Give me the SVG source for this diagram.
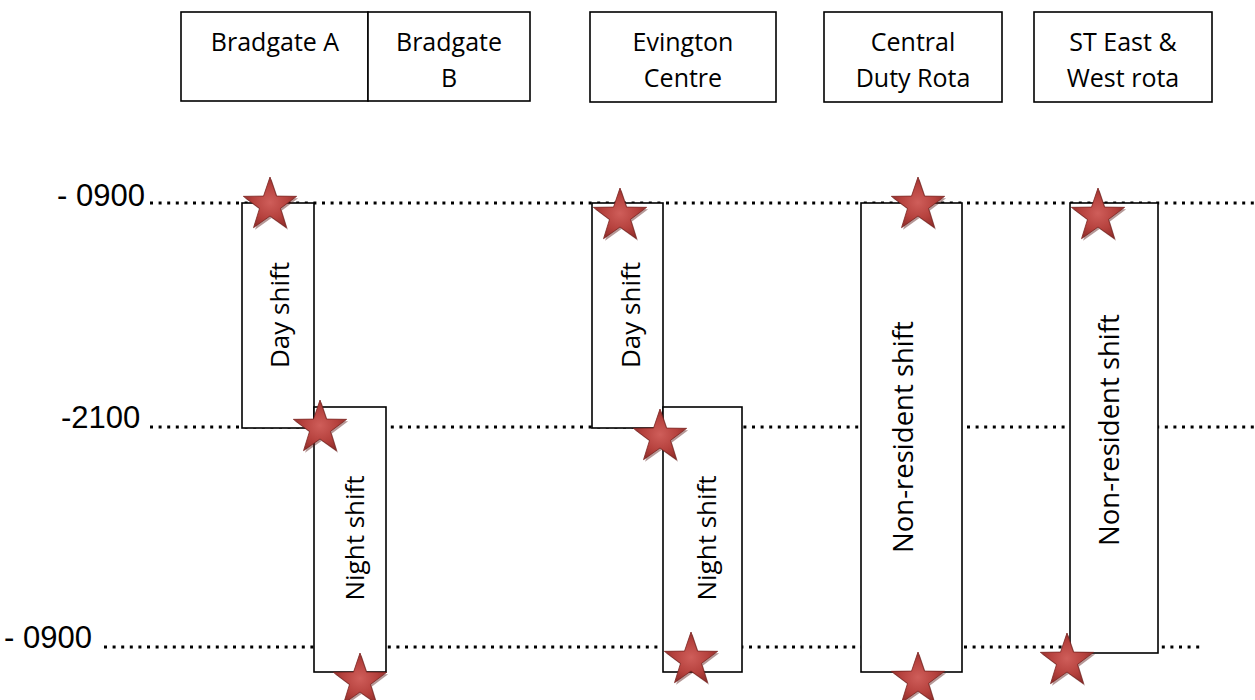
<svg xmlns="http://www.w3.org/2000/svg" width="1255" height="700" viewBox="0 0 1255 700">
<style>
.box{fill:#fff;stroke:#000;stroke-width:1.6}
.hdr{font-family:"Open Sans","Liberation Sans",sans-serif;font-size:25px;fill:#000;text-anchor:middle}
.rot{font-family:"Open Sans","Liberation Sans",sans-serif;font-size:26px;fill:#000;text-anchor:middle}
.rotl{font-family:"Open Sans","Liberation Sans",sans-serif;font-size:27.5px;fill:#000;text-anchor:middle}
.lbl{font-family:"Liberation Sans",Arial,sans-serif;font-size:31px;fill:#000}
.dot{stroke:#000;stroke-width:3;stroke-dasharray:3 5.6;fill:none}
</style>
<defs>
<radialGradient id="sg" cx="0.5" cy="0.5" r="0.55">
<stop offset="0" stop-color="#cf5e5a"/>
<stop offset="0.6" stop-color="#b5413d"/>
<stop offset="1" stop-color="#8e2c29"/>
</radialGradient>
<path id="star" d="M0,-28 L6.47,-8.9 L26.63,-8.65 L10.46,3.4 L16.46,22.65 L0,11 L-16.46,22.65 L-10.46,3.4 L-26.63,-8.65 L-6.47,-8.9 Z"/>
<g id="st">
<use href="#star" transform="translate(1.5,2)" fill="#5a1a18" opacity="0.45"/>
<use href="#star" fill="url(#sg)" stroke="#7a2320" stroke-width="0.8"/>
</g>
</defs>
<rect width="1255" height="700" fill="#fff"/>

<g id="time-labels">
<text class="lbl" x="57" y="206">- 0900</text>
<text class="lbl" x="61" y="428">-2100</text>
<text class="lbl" x="4" y="648">- 0900</text>
</g>

<g id="connectors">
<line class="dot" x1="150" y1="203" x2="1255" y2="203"/>
<line class="dot" x1="150" y1="427" x2="1255" y2="427"/>
<line class="dot" x1="104" y1="647" x2="1200" y2="647"/>
</g>

<g id="hdr-bradgate-a"><rect class="box" x="181" y="12" width="187" height="89"/><text class="hdr" x="275" y="51">Bradgate A</text></g>
<g id="hdr-bradgate-b"><rect class="box" x="368" y="12" width="162" height="89"/><text class="hdr" x="449" y="51">Bradgate</text><text class="hdr" x="449" y="87">B</text></g>
<g id="hdr-evington"><rect class="box" x="590" y="12" width="186" height="90"/><text class="hdr" x="683" y="51">Evington</text><text class="hdr" x="683" y="87">Centre</text></g>
<g id="hdr-central"><rect class="box" x="824" y="12" width="178" height="90"/><text class="hdr" x="913" y="51">Central</text><text class="hdr" x="913" y="87">Duty Rota</text></g>
<g id="hdr-st"><rect class="box" x="1034" y="12" width="178" height="90"/><text class="hdr" x="1123" y="51">ST East &amp;</text><text class="hdr" x="1123" y="87">West rota</text></g>

<g id="b-day"><rect class="box" x="242" y="203" width="72" height="225"/><text class="rot" transform="translate(289,315) rotate(-90)">Day shift</text></g>
<g id="b-night"><rect class="box" x="314" y="407" width="72" height="265"/><text class="rot" transform="translate(364,538) rotate(-90)">Night shift</text></g>
<g id="e-day"><rect class="box" x="592" y="203" width="71" height="225"/><text class="rot" transform="translate(640,315) rotate(-90)">Day shift</text></g>
<g id="e-night"><rect class="box" x="663" y="407" width="79" height="265"/><text class="rot" transform="translate(716,538) rotate(-90)">Night shift</text></g>
<g id="central-shift"><rect class="box" x="861" y="203" width="101" height="469"/><text class="rotl" transform="translate(913,437) rotate(-90)">Non-resident shift</text></g>
<g id="st-shift"><rect class="box" x="1070" y="203" width="88" height="450"/><text class="rotl" transform="translate(1119,430) rotate(-90)">Non-resident shift</text></g>

<g id="stars">
<use href="#st" x="270" y="205"/>
<use href="#st" x="320" y="428"/>
<use href="#st" x="360" y="681"/>
<use href="#st" x="620" y="216"/>
<use href="#st" x="660" y="437"/>
<use href="#st" x="691" y="660"/>
<use href="#st" x="918" y="205"/>
<use href="#st" x="918" y="680"/>
<use href="#st" x="1098" y="216"/>
<use href="#st" x="1067" y="661"/>
</g>
</svg>
